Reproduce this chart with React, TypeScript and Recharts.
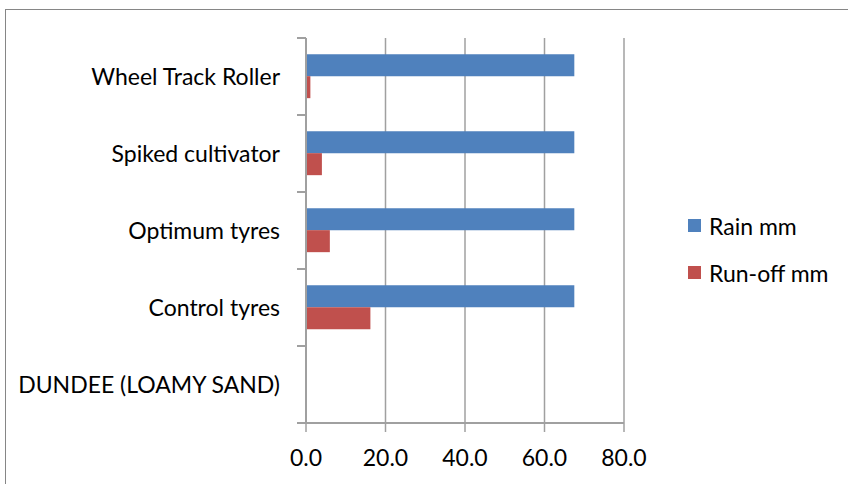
import { Bar, BarChart, CartesianGrid, Legend, XAxis, YAxis } from 'recharts';

const categories = ['Wheel Track Roller', 'Spiked cultivator', 'Optimum tyres', 'Control tyres', 'DUNDEE (LOAMY SAND)'];
const rainMm = [67.5, 67.5, 67.5, 67.5, null];
const runOffMm = [1.1, 4.0, 6.0, 16.2, null];
const xTicks = [0, 20, 40, 60, 80];

const series = [
  { key: 'rain', name: 'Rain mm', color: '#4f81bd' },
  { key: 'runoff', name: 'Run-off mm', color: '#c0504d' },
];

const chartData = categories.map((name, i) => ({
  name,
  rain: rainMm[i],
  runoff: runOffMm[i],
}));

const FONT = 'Lato, "Open Sans", sans-serif';
const AXIS = '#a0a0a0';

// Excel style: label in the band centre, tick marks on the band edges
const CategoryTick = (props: any) => {
  const { x, y, payload, index, visibleTicksCount } = props;
  const half = payload.offset || 0;
  const isLast = index === visibleTicksCount - 1;
  return (
    <g>
      <line x1={x + 16} x2={x + 25} y1={y - half} y2={y - half} stroke={AXIS} strokeWidth={2} />
      {isLast && <line x1={x + 16} x2={x + 25} y1={y + half} y2={y + half} stroke={AXIS} strokeWidth={2} />}
      <text x={x - 1} y={y} dy={8} textAnchor='end' fontSize={23} fill='#000' fontFamily={FONT}>
        {payload.value}
      </text>
    </g>
  );
};

const LegendBox = () => (
  <div style={{ fontFamily: FONT, fontSize: 23, color: '#000' }}>
    {series.map((s) => (
      <div key={s.key} style={{ display: 'flex', alignItems: 'center', height: 47 }}>
        <span style={{ width: 13, height: 13, background: s.color, marginRight: 8, display: 'inline-block' }} />
        <span>{s.name}</span>
      </div>
    ))}
  </div>
);

export default function App() {
  return (
    <div style={{ position: 'absolute', left: 0, top: 0, width: 848, height: 484, background: '#fff', overflow: 'hidden' }}>
      <div
        style={{
          position: 'absolute',
          left: 5,
          top: 9,
          width: 900,
          height: 520,
          border: '1px solid #868686',
        }}
      />
      <div style={{ position: 'absolute', left: 0, top: 0 }}>
        <BarChart
          width={848}
          height={484}
          data={chartData}
          layout='vertical'
          margin={{ top: 38, right: 224, bottom: 21, left: 6 }}
          barCategoryGap='21%'
          barGap={0}
        >
          <CartesianGrid horizontal={false} vertical stroke={AXIS} strokeWidth={1.5} />
          <XAxis
            type='number'
            domain={[0, 80]}
            ticks={xTicks}
            tickFormatter={(v: number) => v.toFixed(1)}
            height={40}
            axisLine={{ stroke: AXIS, strokeWidth: 2 }}
            tickLine={{ stroke: AXIS, strokeWidth: 1.5 }}
            tickSize={9}
            tickMargin={18}
            tick={{ fontSize: 23, fill: '#000', fontFamily: FONT }}
          />
          <YAxis
            type='category'
            dataKey='name'
            width={300}
            axisLine={{ stroke: AXIS, strokeWidth: 2 }}
            tickLine={false}
            tick={<CategoryTick />}
            tickMargin={0}
            tickSize={25}
          />
          <Legend
            layout='horizontal'
            verticalAlign='middle'
            align='center'
            content={<LegendBox />}
            wrapperStyle={{ left: 688, top: 202, width: 160 }}
          />
          {series.map((s) => (
            <Bar key={s.key} dataKey={s.key} name={s.name} fill={s.color} isAnimationActive={false} />
          ))}
        </BarChart>
      </div>
    </div>
  );
}
